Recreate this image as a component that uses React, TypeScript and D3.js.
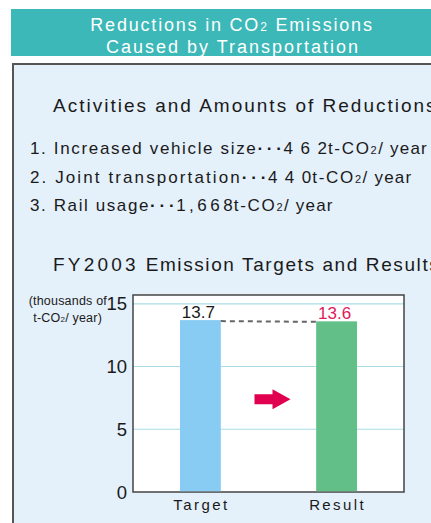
import React from 'react';
import * as d3 from 'd3';

// chart values
const categories = ['Target', 'Result'];
const values = [13.7, 13.6];
const valueLabels = ['13.7', '13.6'];
const yTicks = [0, 5, 10, 15];
const activities = [
  { label: '1. Increased vehicle size', amount: '462', spacing: 1.65, gap: 7.5 },
  { label: '2. Joint transportation', amount: '440', spacing: 2.1, gap: 7.5 },
  { label: '3. Rail usage', amount: '1,668', spacing: 1.6, gap: 3.5 },
];

const FONT = '"Liberation Sans", Arial, Helvetica, sans-serif';

const App = () => {
  const width = 431;
  const height = 523;
  const plot = { left: 133, right: 404, top: 295, bottom: 492 };

  const y = d3.scaleLinear().domain([0, 15.7]).range([plot.bottom, plot.top]);
  const x = d3
    .scaleBand<string>()
    .domain(categories)
    .range([plot.left, plot.right])
    .paddingInner(0.7)
    .paddingOuter(0.345);
  const bw = x.bandwidth();
  const colors = ['#88ccf3', '#62bf88'];
  const labelColors = ['#1a1a1a', '#e0195a'];

  // arrow between the bars
  const ax = (x(categories[0])! + bw + x(categories[1])!) / 2 + 4;
  const ay = y(7.4);

  return (
    <svg
      width={width}
      height={height}
      style={{ position: 'absolute', left: 0, top: 0, background: '#fff' }}
      fontFamily={FONT}
    >
      {/* header band */}
      <rect x={11} y={9} width={width - 11} height={47} fill="#3cb8b8" />
      <text x={232} y={31} textAnchor="middle" fill="#fff" fontSize={18} letterSpacing="1.8">
        Reductions in CO<tspan fontSize={12}>2</tspan> Emissions
      </text>
      <text x={233} y={53} textAnchor="middle" fill="#fff" fontSize={18} letterSpacing="2">
        Caused by Transportation
      </text>

      {/* panel */}
      <rect x={13} y={64} width={width} height={height} fill="#e4f0fa" stroke="#555" strokeWidth={2} />

      <text x={53} y={112} fontSize={19} fill="#1a1a1a" letterSpacing="2">
        Activities and Amounts of Reductions
      </text>
      {activities.map((a, i) => (
        <text key={a.label} x={30} y={154 + i * 28.5} fontSize={17} fill="#1a1a1a" letterSpacing={a.spacing}>
          {a.label}
          <tspan fontWeight="bold" letterSpacing="3.8">··</tspan>
          <tspan fontWeight="bold" letterSpacing="1.5">·</tspan>
          <tspan letterSpacing={a.gap}>{a.amount.slice(0, -1)}</tspan>
          <tspan letterSpacing="1">{a.amount.slice(-1)}</tspan>
          <tspan letterSpacing="1.7">t-CO</tspan>
          <tspan fontSize={11} letterSpacing="1.5">2</tspan>
          <tspan letterSpacing="1.2">{'/ year'}</tspan>
        </text>
      ))}

      <text x={53} y={271} fontSize={19} fill="#1a1a1a" letterSpacing="1.6">
        <tspan letterSpacing="3.2">FY2003</tspan> Emission Targets and Results
      </text>

      {/* y axis title */}
      <text x={107} y={305} textAnchor="end" fontSize={12.5} fill="#1a1a1a" letterSpacing="0.2">
        (thousands of
      </text>
      <text x={102} y={322} textAnchor="end" fontSize={12.5} fill="#1a1a1a" letterSpacing="0.2">
        t-CO<tspan fontSize={8}>2</tspan>/ year)
      </text>

      {/* plot */}
      <rect
        x={plot.left}
        y={plot.top}
        width={plot.right - plot.left}
        height={plot.bottom - plot.top}
        fill="#fff"
      />
      {yTicks.map((t) => (
        <g key={t}>
          {t > 0 && (
            <line x1={plot.left} x2={plot.right} y1={y(t)} y2={y(t)} stroke="#a9dde5" strokeWidth={1.2} />
          )}
          <text x={127} y={y(t)} dy="0.36em" textAnchor="end" fontSize={18.5} fill="#1a1a1a">
            {t}
          </text>
        </g>
      ))}
      <rect
        x={plot.left}
        y={plot.top}
        width={plot.right - plot.left}
        height={plot.bottom - plot.top}
        fill="none"
        stroke="#444"
        strokeWidth={1.5}
      />

      {categories.map((c, i) => (
        <g key={c}>
          <rect
            x={x(c)}
            y={y(values[i])}
            width={bw}
            height={plot.bottom - y(values[i]) - 0.75}
            fill={colors[i]}
          />
          <text
            x={x(c)! + bw / 2 - 2}
            y={y(values[i]) - 2}
            textAnchor="middle"
            fontSize={17}
            fill={labelColors[i]}
          >
            {valueLabels[i]}
          </text>
          <text
            x={x(c)! + bw / 2 + 1}
            y={510}
            textAnchor="middle"
            fontSize={15}
            fill="#1a1a1a"
            letterSpacing="2.4"
          >
            {c}
          </text>
        </g>
      ))}

      {/* dashed connector */}
      <line
        x1={x(categories[0])! + bw}
        x2={x(categories[1])!}
        y1={y(values[0]) + 1}
        y2={y(values[1]) + 0.5}
        stroke="#666"
        strokeWidth={2}
        strokeDasharray="5 4"
      />

      <path
        d={`M${ax - 18},${ay - 5} H${ax} V${ay - 10} L${ax + 18},${ay} L${ax},${ay + 10} V${ay + 5} H${ax - 18} Z`}
        fill="#e0004f"
      />
    </svg>
  );
};

export default App;
